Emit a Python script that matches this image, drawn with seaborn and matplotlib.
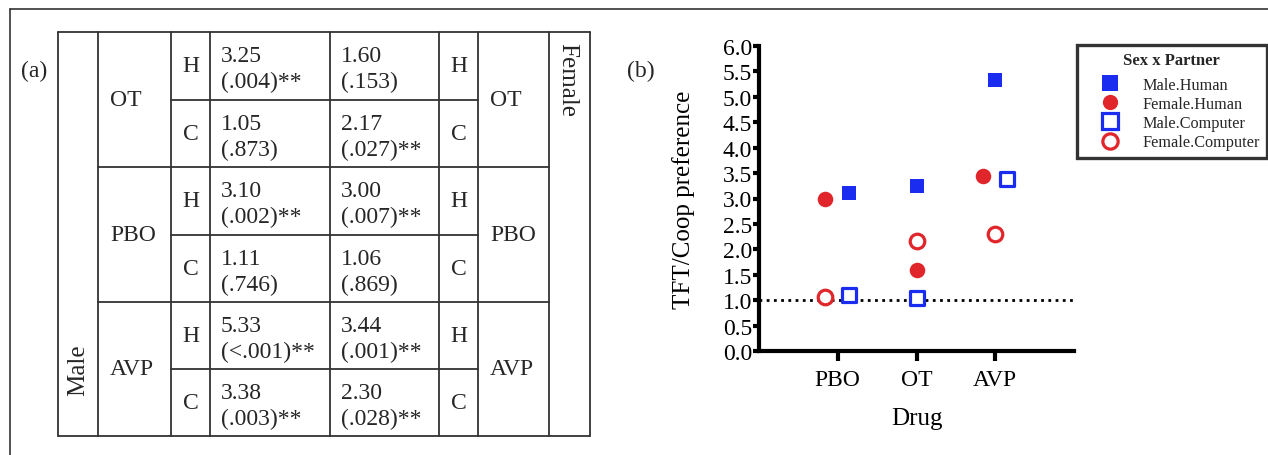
import pandas as pd
import numpy as np
import matplotlib
matplotlib.use("Agg")
import matplotlib.pyplot as plt
import seaborn as sns
from matplotlib.lines import Line2D

# table (a) values, rows in table order
table_drugs = ["OT", "PBO", "AVP"]
table_partners = ["H", "C"]
male_ratio = ["3.25", "1.05", "3.10", "1.11", "5.33", "3.38"]
male_p = ["(.004)**", "(.873)", "(.002)**", "(.746)", "(<.001)**", "(.003)**"]
female_ratio = ["1.60", "2.17", "3.00", "1.06", "3.44", "2.30"]
female_p = ["(.153)", "(.027)**", "(.007)**", "(.869)", "(.001)**", "(.028)**"]

# plot (b) values
drug_order = ["PBO", "OT", "AVP"]
male_human = [3.10, 3.25, 5.33]
female_human = [3.00, 1.60, 3.44]
male_computer = [1.11, 1.05, 3.38]
female_computer = [1.06, 2.17, 2.30]
group_names = ["Male.Human", "Female.Human", "Male.Computer", "Female.Computer"]

# horizontal nudge so the points don't overlap (like in the original figure)
nudge = {
    "Male.Human": [0.14, 0.0, 0.0],
    "Female.Human": [-0.16, 0.0, -0.15],
    "Male.Computer": [0.14, 0.0, 0.15],
    "Female.Computer": [-0.16, 0.0, 0.0],
}

blue = "#1a2cf0"
red = "#e0262b"
stili = {
    "Male.Human": dict(marker="s", color=blue, edgecolor=blue, linewidth=0, s=105),
    "Female.Human": dict(marker="o", color=red, edgecolor=red, linewidth=0, s=125),
    "Male.Computer": dict(marker="s", color="white", edgecolor=blue, linewidth=2.3, s=95),
    "Female.Computer": dict(marker="o", color="white", edgecolor=red, linewidth=2.3, s=110),
}

righe = []
for nome, valori in zip(group_names, [male_human, female_human, male_computer, female_computer]):
    for i, drug in enumerate(drug_order):
        righe.append({"drug": drug, "group": nome, "value": valori[i],
                      "xpos": i + nudge[nome][i]})
df = pd.DataFrame(righe)

sns.set_theme(style="ticks")
plt.rcParams["font.family"] = ["Liberation Serif", "DejaVu Serif"]

W, H = 1268, 456
fig = plt.figure(figsize=(W / 100, H / 100), dpi=100)

# canvas in pixel coordinates for border and table
canvas = fig.add_axes([0, 0, 1, 1])
canvas.set_xlim(0, W)
canvas.set_ylim(H, 0)
canvas.axis("off")

# outer frame (only top and left visible)
canvas.plot([10, W], [10, 10], color="#333333", lw=1.2)
canvas.plot([10, 10], [10, H], color="#333333", lw=1.2)
canvas.text(34, 71, "(a)", fontsize=17, ha="center", va="center")

# ---------------- table (a) ----------------
cols = [58, 98, 171, 210, 330, 439, 478, 549, 590]
rows = [33, 101, 168, 236, 303, 370, 437]
lc = "#333333"
lw = 1.3
for x in cols:
    canvas.plot([x, x], [rows[0], rows[-1]], color=lc, lw=lw)
canvas.plot([cols[0], cols[-1]], [rows[0], rows[0]], color=lc, lw=lw)
canvas.plot([cols[0], cols[-1]], [rows[-1], rows[-1]], color=lc, lw=lw)
for y in [rows[2], rows[4]]:
    canvas.plot([cols[1], cols[7]], [y, y], color=lc, lw=lw)
for y in [rows[1], rows[3], rows[5]]:
    canvas.plot([cols[2], cols[6]], [y, y], color=lc, lw=lw)

fs_tab = 17
for k, drug in enumerate(table_drugs):
    yc = (rows[2 * k] + rows[2 * k + 2]) / 2
    canvas.text(cols[1] + 12, yc, drug, fontsize=fs_tab, ha="left", va="center")
    canvas.text(cols[6] + 12, yc, drug, fontsize=fs_tab, ha="left", va="center")
for r in range(6):
    yc = (rows[r] + rows[r + 1]) / 2
    p = table_partners[r % 2]
    canvas.text((cols[2] + cols[3]) / 2, yc, p, fontsize=fs_tab, ha="center", va="center")
    canvas.text((cols[5] + cols[6]) / 2, yc, p, fontsize=fs_tab, ha="center", va="center")
    canvas.text(cols[3] + 11, yc + 3, male_ratio[r] + "\n" + male_p[r], fontsize=fs_tab,
                ha="left", va="center", linespacing=1.3)
    canvas.text(cols[4] + 11, yc + 3, female_ratio[r] + "\n" + female_p[r], fontsize=fs_tab,
                ha="left", va="center", linespacing=1.3)
canvas.text((cols[0] + cols[1]) / 2, 370, "Male", fontsize=18, rotation=90,
            ha="center", va="center")
canvas.text((cols[7] + cols[8]) / 2 - 2, 80, "Female", fontsize=18, rotation=270,
            ha="center", va="center")

# ---------------- plot (b) ----------------
ax = fig.add_axes([759 / W, 1 - 352 / H, (1074 - 759) / W, (352 - 47) / H])
for nome in group_names:
    sub = df[df["group"] == nome]
    sns.scatterplot(data=sub, x="xpos", y="value", ax=ax, zorder=3, **stili[nome])
ax.axhline(1.0, color="black", lw=2, linestyle=(0, (1, 1.6)), zorder=2)

ax.set_xlim(-1, 3)
ax.set_ylim(0, 6)
ax.set_xticks(range(len(drug_order)))
ax.set_xticklabels(drug_order)
ax.set_yticks(np.arange(0, 6.01, 0.5))
ax.set_yticklabels([f"{v:.1f}" for v in np.arange(0, 6.01, 0.5)])
ax.tick_params(axis="y", length=4, width=3, pad=1, labelsize=17, color="black")
ax.tick_params(axis="x", length=7, width=3, pad=6, labelsize=17, color="black")
for lab in ax.get_xticklabels() + ax.get_yticklabels():
    lab.set_color("black")
sns.despine(ax=ax)
ax.spines["left"].set_linewidth(3)
ax.spines["bottom"].set_linewidth(3)
ax.spines["left"].set_color("black")
ax.spines["bottom"].set_color("black")
ax.set_xlabel("Drug", fontsize=18, labelpad=12, color="black")
ax.set_ylabel("TFT/Coop preference", fontsize=18, labelpad=20, color="black")
ax.set_facecolor("white")

canvas.text(641, 71, "(b)", fontsize=17, ha="center", va="center")

# legend
handles = []
for nome in group_names:
    st = stili[nome]
    handles.append(Line2D([], [], linestyle="none", marker=st["marker"], markersize=11,
                          markerfacecolor=st["color"], markeredgecolor=st["edgecolor"],
                          markeredgewidth=st["linewidth"] if st["linewidth"] else 0.0))
leg = fig.legend(handles, group_names, title="Sex x Partner", loc="upper left",
                 bbox_to_anchor=(1077 / W, 1 - 46 / H), frameon=True, fancybox=False,
                 fontsize=11.7, title_fontproperties={"weight": "bold", "size": 12},
                 labelspacing=0.2, handlelength=3.1, handletextpad=0.45, borderpad=0.45,
                 borderaxespad=0)
leg._legend_box.sep = 6
leg.get_frame().set_edgecolor("black")
leg.get_frame().set_linewidth(2.4)

fig.savefig("out.png", dpi=100, facecolor="white")
